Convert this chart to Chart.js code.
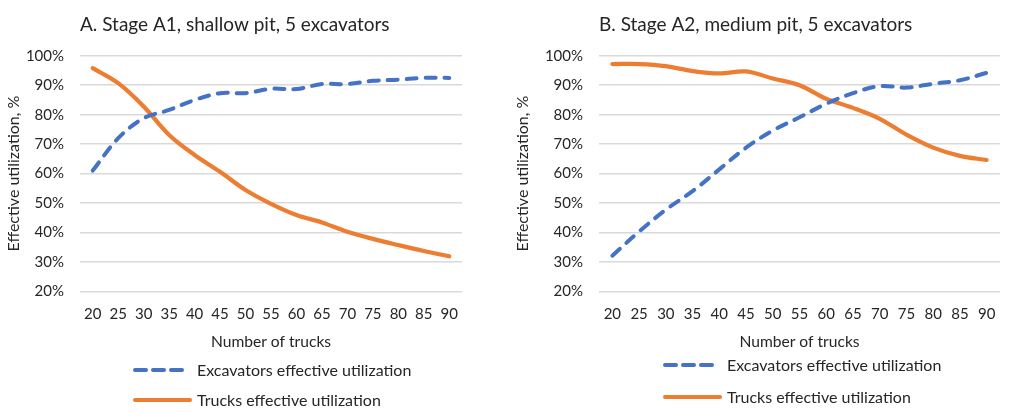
<!DOCTYPE html>
<html>
<head>
<meta charset="utf-8">
<script src="https://cdn.jsdelivr.net/npm/chart.js@4.4.0/dist/chart.umd.min.js"></script>
<style>
  body { margin: 0; background: #fff; font-family: Lato, sans-serif; color: #262626; }
  #wrap { position: relative; width: 1014px; height: 418px; overflow: hidden; }
  .panel { position: absolute; top: 0; height: 418px; }
  .legend { position: absolute; left: 0; top: 0; width: 100%; height: 100%; pointer-events: none; }
  .item { position: absolute; font-size: 16px; line-height: 20px; white-space: nowrap; }
</style>
</head>
<body>
<div id="wrap">
  <div class="panel" style="left:0;width:500px"><canvas id="chart-a1"></canvas></div>
  <div class="panel" style="left:500px;width:514px"><canvas id="chart-a2"></canvas></div>
  <div class="legend" id="legend"></div>
</div>
<script>
const trucks = [20, 25, 30, 35, 40, 45, 50, 55, 60, 65, 70, 75, 80, 85, 90];

// A1, shallow pit
const excavatorsA1 = [61, 72, 78.8, 81.6, 85, 87.3, 87.3, 88.8, 88.7, 90.4, 90.4, 91.5, 91.9, 92.5, 92.5];
const trucksA1 = [95.8, 90.7, 82.8, 73.1, 66.3, 60.6, 54.4, 49.7, 45.9, 43.4, 40.2, 37.8, 35.7, 33.7, 31.9];

// A2, medium pit
const excavatorsA2 = [32.1, 40.3, 47.7, 54, 61.4, 68.8, 74.6, 79.1, 83.7, 87.3, 89.7, 89.2, 90.5, 91.7, 94.2];
const trucksA2 = [97.2, 97.2, 96.5, 94.8, 94, 94.7, 92.3, 90, 85.4, 82.3, 78.6, 73.2, 68.8, 66, 64.6];

const seriesNames = ['Excavators effective utilization', 'Trucks effective utilization'];
const blue = '#4472C4';
const orange = '#ED7D31';
const textColor = '#262626';

Chart.defaults.font.family = 'Lato, sans-serif';
Chart.defaults.color = textColor;

const makeChart = (id, title, excavators, trucksUtil, yWidth, yTitlePad, rightPad) => {
    return new Chart(document.getElementById(id), {
        type: 'line',
        data: {
            labels: trucks,
            datasets: [{
                label: seriesNames[0],
                data: excavators,
                borderColor: blue,
                backgroundColor: blue,
                borderWidth: 4,
                borderDash: [10, 9],
                borderCapStyle: 'round',
                pointRadius: 0,
                tension: 0.35
            }, {
                label: seriesNames[1],
                data: trucksUtil,
                borderColor: orange,
                backgroundColor: orange,
                borderWidth: 4.2,
                borderCapStyle: 'round',
                pointRadius: 0,
                tension: 0.35
            }]
        },
        options: {
            responsive: false,
            animation: false,
            layout: { padding: { left: 0, right: rightPad, top: 0, bottom: 67 } },
            plugins: {
                legend: { display: false },
                tooltip: { enabled: false },
                title: {
                    display: true,
                    text: title,
                    align: 'start',
                    fullSize: false,
                    color: textColor,
                    font: { size: 19, weight: 'normal' },
                    padding: { top: 13, bottom: 20 }
                }
            },
            scales: {
                x: {
                    offset: true,
                    grid: { display: false },
                    border: { display: false },
                    ticks: { padding: 6, color: textColor, font: { size: 15 }, maxRotation: 0, autoSkip: false },
                    title: { display: true, text: 'Number of trucks', color: textColor, font: { size: 15.6 }, padding: { top: 3, bottom: 0 } }
                },
                y: {
                    min: 20,
                    max: 100,
                    afterFit: (scale) => { scale.width = yWidth; },
                    grid: { color: '#d9d9d9', lineWidth: 1.5, drawTicks: false },
                    border: { display: false },
                    ticks: { stepSize: 10, padding: 16, color: textColor, font: { size: 15 }, callback: (v) => v + '%' },
                    title: { display: true, text: 'Effective utilization, %', color: textColor, font: { size: 16 }, padding: { top: yTitlePad, bottom: 0 } }
                }
            }
        }
    });
};

const setSize = (id, w, h) => {
    const c = document.getElementById(id);
    c.width = w; c.height = h;
    c.style.width = w + 'px'; c.style.height = h + 'px';
};
setSize('chart-a1', 500, 418);
setSize('chart-a2', 514, 418);

makeChart('chart-a1', 'A. Stage A1, shallow pit, 5 excavators', excavatorsA1, trucksA1, 80, 4, 38);
makeChart('chart-a2', 'B. Stage A2, medium pit, 5 excavators', excavatorsA2, trucksA2, 99, 13, 14);

// legend blocks (Excel style: one entry per row, left aligned)
const legendItems = [
    { x: 133, y: 370, len: 52, textX: 197, name: seriesNames[0], color: blue, dash: true },
    { x: 133, y: 400, len: 59, textX: 197, name: seriesNames[1], color: orange, dash: false },
    { x: 663, y: 365, len: 54, textX: 727, name: seriesNames[0], color: blue, dash: true },
    { x: 663, y: 397, len: 59, textX: 727, name: seriesNames[1], color: orange, dash: false }
];
const legend = document.getElementById('legend');
legendItems.forEach(({ x, y, len, textX, name, color, dash }) => {
    const line = document.createElementNS('http://www.w3.org/2000/svg', 'svg');
    line.setAttribute('width', len);
    line.setAttribute('height', 8);
    line.style.position = 'absolute';
    line.style.left = x + 'px';
    line.style.top = (y - 4) + 'px';
    line.style.overflow = 'visible';
    line.innerHTML = `<line x1="2" y1="4" x2="${len - 2}" y2="4" stroke="${color}" stroke-width="4" stroke-linecap="round"${dash ? ' stroke-dasharray="11 7"' : ''}/>`;
    legend.appendChild(line);

    const label = document.createElement('div');
    label.className = 'item';
    label.style.left = textX + 'px';
    label.style.top = (y - 10) + 'px';
    label.textContent = name;
    legend.appendChild(label);
});
</script>
</body>
</html>
